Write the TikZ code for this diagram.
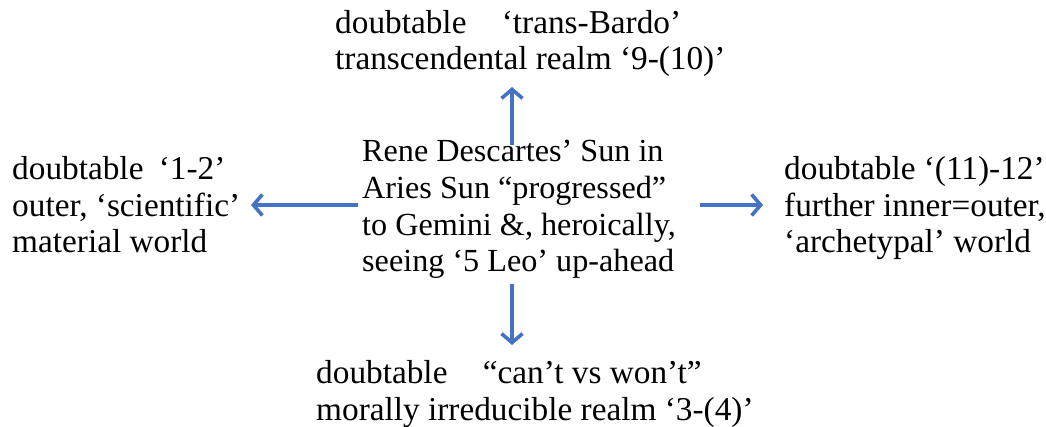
\documentclass[tikz,border=0pt]{standalone}
\usepackage{fontspec}
\setmainfont{Liberation Serif}
\usetikzlibrary{arrows.meta}
\definecolor{arrowblue}{HTML}{4472C4}
\tikzset{
  lbl/.style={anchor=base west, inner sep=0pt, align=left, font=\fontsize{33.3}{36.7}\selectfont},
  midlbl/.style={lbl, font=\fontsize{32.2}{36.7}\selectfont},
  conn/.style={draw=arrowblue, line width=3.6pt, -{Straight Barb[length=9pt,width=21pt,line width=3.6pt]}}
}
\begin{document}
\begin{tikzpicture}[x=1pt,y=-1pt]
\useasboundingbox (0,0) rectangle (1046,427);
\node[lbl] (top) at (335,70) {doubtable\hspace{27pt} ‘trans-Bardo’\\transcendental realm ‘9-(10)’};
\node[lbl] (left) at (12,253) {doubtable\hspace{7pt} ‘1-2’\\outer, ‘scientific’\\material world};
\node[midlbl] (center) at (362,272) {Rene Descartes’ Sun in\\Aries Sun “progressed”\\to Gemini \&, heroically,\\seeing ‘5 Leo’ up-ahead};
\node[lbl] (right) at (784,253) {doubtable ‘(11)-12’\\further inner=outer,\\‘archetypal’ world};
\node[lbl] (bottom) at (316,420) {doubtable\hspace{27pt} “can’t vs won’t”\\morally irreducible realm ‘3-(4)’};
\coordinate (cL) at (358,205);
\coordinate (cR) at (700,205);
\coordinate (cT) at (512,145);
\coordinate (cB) at (512,284);
\coordinate (eL) at (251,205);
\coordinate (eR) at (763,205);
\coordinate (eT) at (512,87);
\coordinate (eB) at (512,345);
\draw[conn] (cL) -- (eL);
\draw[conn] (cR) -- (eR);
\draw[conn] (cT) -- (eT);
\draw[conn] (cB) -- (eB);
\end{tikzpicture}
\end{document}
